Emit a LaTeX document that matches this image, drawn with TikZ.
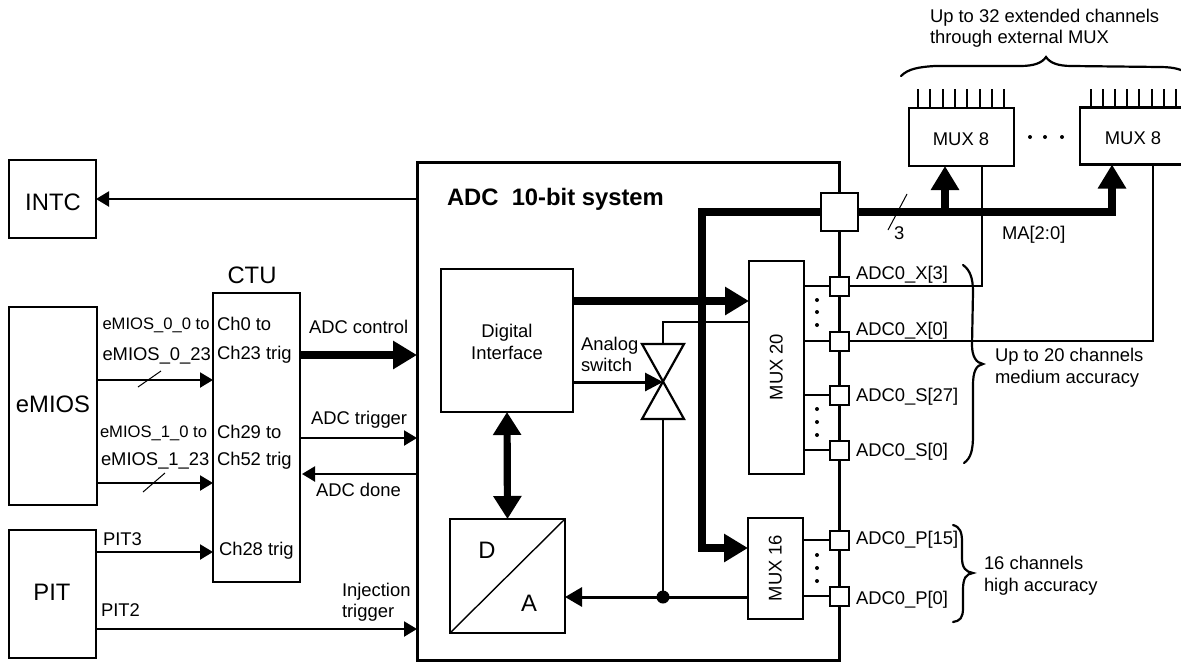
\documentclass[tikz,border=0pt]{standalone}
\usepackage{fontspec}
\setmainfont{Liberation Sans}
\usetikzlibrary{arrows.meta}
\newcommand{\fsA}{\fontsize{18.4}{22}\selectfont}
\newcommand{\fsB}{\fontsize{23.8}{28}\selectfont}
\newcommand{\fsC}{\fontsize{16.6}{20}\selectfont}
\tikzset{
  box/.style={draw=black,fill=white,line width=2.2pt,inner sep=0pt,outer sep=0pt},
  padbox/.style={box,line width=2pt,minimum width=19pt,minimum height=19pt},
  lbl/.style={inner sep=0pt,outer sep=0pt,anchor=west,text height=13pt,text depth=0pt,font=\fsA},
  lblc/.style={lbl,anchor=center},
  lblsm/.style={lbl,font=\fsC,text height=12pt},
  big/.style={lbl,anchor=center,font=\fsB,text height=17pt},
  wire/.style={line width=2pt},
  thinarrow/.style={line width=2.2pt,-{Triangle[length=13pt,width=15pt]}},
  midarrow/.style={line width=3pt,-{Triangle[length=17pt,width=19pt]}},
  bus/.style={line width=7.2pt},
  busarrow/.style={bus,-{Triangle[length=24pt,width=27pt]}},
  bibus/.style={bus,{Triangle[length=23pt,width=27pt]}-{Triangle[length=23pt,width=27pt]}},
  slash/.style={line width=1pt},
  brace/.style={line width=2.2pt,line cap=round},
  dot/.style={fill=black,circle,inner sep=0pt,minimum size=4pt,outer sep=0pt},
}
\begin{document}
\begin{tikzpicture}[x=1pt,y=-1pt]
\useasboundingbox (0,0) rectangle (1181,662);
\clip (0,0) rectangle (1181,662);
% outer blocks
\node[box,minimum width=87pt,minimum height=78pt] (intc) at (52.5,199) {};
\node[box,minimum width=88pt,minimum height=198pt] (emios) at (53,406) {};
\node[box,minimum width=87pt,minimum height=128pt] (pit) at (52.5,594) {};
\node[box,minimum width=87pt,minimum height=289pt] (ctu) at (256.5,437.5) {};
\node[box,line width=3pt,minimum width=422pt,minimum height=498pt] (adc) at (628,411) {};
\node[box,minimum width=132pt,minimum height=143pt] (di) at (507,340.5) {};
\node[box,minimum width=115pt,minimum height=114pt] (da) at (507.5,576) {};
\node[box,minimum width=55pt,minimum height=213pt] (mux20) at (776.5,367.5) {};
\node[box,minimum width=55pt,minimum height=101pt] (mux16) at (775.5,568.5) {};
\node[box,minimum width=105pt,minimum height=58pt] (muxa) at (961.5,137) {};
\node[box,minimum width=112pt,minimum height=57pt] (muxb) at (1136,136) {};
% pads
\node[padbox,minimum width=37pt,minimum height=38pt] (bigpad) at (839.5,212) {};
\node[padbox] (x3) at (839,286) {};
\node[padbox] (x0) at (839,341) {};
\node[padbox] (s27) at (839,395) {};
\node[padbox] (s0) at (839,450) {};
\node[padbox] (p15) at (839,540) {};
\node[padbox] (p0) at (839,596) {};
% block labels
\node[big] (tintc) at (53,202) {INTC};
\node[big] (temios) at (53,404) {eMIOS};
\node[big] (tpit) at (52,592) {PIT};
\node[big] (tctu) at (252,275) {CTU};
\node[lbl,font=\fsB\bfseries,text height=17pt] (tadc) at (447,197) {ADC\ \ 10-bit system};
\node[lblc] (tdi1) at (507,331) {Digital};
\node[lblc] (tdi2) at (507,353) {Interface};
\node[big] (td) at (487,550) {D};
\node[big] (ta) at (529,603) {A};
\node[lblc,rotate=90] (tm20) at (776,367) {MUX 20};
\node[lblc,rotate=90] (tm16) at (775,568) {MUX 16};
\node[lblc] (tma) at (961,139) {MUX 8};
\node[lblc] (tmb) at (1133,138) {MUX 8};
% left labels
\node[lblsm] (l1) at (102.5,323) {eMIOS\_0\_0 to};
\node[lbl] (l2) at (102.5,354) {eMIOS\_0\_23};
\node[lblsm] (l3) at (100,431) {eMIOS\_1\_0 to};
\node[lbl] (l4) at (101,459) {eMIOS\_1\_23};
\node[lbl] (c1) at (217,324) {Ch0 to};
\node[lbl] (c2) at (217,353) {Ch23 trig};
\node[lbl] (c3) at (217,432) {Ch29 to};
\node[lbl] (c4) at (217,459) {Ch52 trig};
\node[lbl] (c5) at (219,549) {Ch28 trig};
\node[lbl] (p3) at (103,539) {PIT3};
\node[lbl] (p2) at (101,610) {PIT2};
\node[lbl] (l5) at (309,327) {ADC control};
\node[lbl] (l6) at (311,418) {ADC trigger};
\node[lbl] (l7) at (316,490) {ADC done};
\node[lbl] (l8) at (342,590) {Injection};
\node[lbl] (l9) at (342,611) {trigger};
\node[lbl] (l10) at (581,344) {Analog};
\node[lbl] (l11) at (581,365) {switch};
% right labels
\node[lbl] (r1) at (856,273) {ADC0\_X[3]};
\node[lbl] (r2) at (856,329) {ADC0\_X[0]};
\node[lbl] (r3) at (856,395) {ADC0\_S[27]};
\node[lbl] (r4) at (856,450) {ADC0\_S[0]};
\node[lbl] (r5) at (856,538) {ADC0\_P[15]};
\node[lbl] (r6) at (856,598) {ADC0\_P[0]};
\node[lbl] (n1) at (930,16) {Up to 32 extended channels};
\node[lbl] (n2) at (930,37) {through external MUX};
\node[lbl] (n3) at (1002,233) {MA[2:0]};
\node[lbl] (n4) at (894,233) {3};
\node[lbl] (n5) at (995,355) {Up to 20 channels};
\node[lbl] (n6) at (995,377) {medium accuracy};
\node[lbl] (n7) at (984,563) {16 channels};
\node[lbl] (n8) at (984,585) {high accuracy};
% analog switch
\coordinate (swtl) at (642,344);
\coordinate (swtr) at (684,344);
\coordinate (swbl) at (642,419);
\coordinate (swbr) at (684,419);
\coordinate (swc) at (663,382);
\coordinate (swt) at (663,344);
\coordinate (swb) at (663,419);
\draw[line width=2.2pt,line join=miter] (swtl) -- (swtr) -- (swbl) -- (swbr) -- cycle;
\node[circle,fill=black,inner sep=0pt,minimum size=13pt,outer sep=0pt] (jn) at (663,597) {};
% connectors left
\draw[thinarrow] (adc.west |- 0,199) -- (intc.east);
\draw[thinarrow] (emios.east |- 0,380) -- (ctu.west |- 0,380);
\draw[thinarrow] (emios.east |- 0,483) -- (ctu.west |- 0,483);
\draw[thinarrow] (pit.east |- 0,552) -- (ctu.west |- 0,552);
\draw[thinarrow] (pit.east |- 0,629) -- (adc.west |- 0,629);
\draw[busarrow] (ctu.east |- 0,355) -- (adc.west |- 0,355);
\draw[thinarrow] (ctu.east |- 0,438) -- (adc.west |- 0,438);
\draw[thinarrow] (adc.west |- 0,474) -- (302,474);
\coordinate (s1a) at (138,387); \coordinate (s1b) at (161,371);
\coordinate (s2a) at (143,492); \coordinate (s2b) at (165,473);
\coordinate (s3a) at (888,230); \coordinate (s3b) at (907,194);
\draw[slash] (s1a) -- (s1b);
\draw[slash] (s2a) -- (s2b);
\draw[slash] (s3a) -- (s3b);
% bus
\coordinate (busc) at (702,212);
\coordinate (busd) at (702,548);
\coordinate (buse) at (1112,212);
\coordinate (busf) at (945,212);
\draw[busarrow,line join=miter] (bigpad.west) -- (busc) -- (busd) -- (mux16.west |- busd);
\draw[bus] (bigpad.east) -- (buse);
\draw[busarrow,shorten <=-3.6pt] (buse) -- (buse |- muxb.south);
\draw[busarrow] (busf) -- (busf |- muxa.south);
\draw[busarrow] (di.east |- 0,301) -- (mux20.west |- 0,301);
\draw[bibus] (di.south) -- (da.north);
\draw[line width=1.4pt] (da.south west) -- (da.north east);
% analog path
\draw[thinarrow,line width=3pt,-{Triangle[length=18pt,width=18pt]}] (di.east |- swc) -- (swc);
\draw[wire] (swt) -- (663,322) -- (mux20.west |- 0,322);
\draw[wire] (swb) -- (jn);
\draw[midarrow] (mux16.west |- jn) -- (da.east |- jn);
% mux to pads
\draw[wire] (mux20.east |- x3) -- (x3.west);
\draw[wire] (mux20.east |- x0) -- (x0.west);
\draw[wire] (mux20.east |- s27) -- (s27.west);
\draw[wire] (mux20.east |- s0) -- (s0.west);
\draw[wire] (mux16.east |- p15) -- (p15.west);
\draw[wire] (mux16.east |- p0) -- (p0.west);
\draw[wire] (x3.east) -- (982,286) -- (982,166);
\draw[wire] (x0.east) -- (1153,341) -- (1153,164);
% input ticks
\foreach \i in {0,...,7} {
  \coordinate (ta\i) at (918+12.3*\i,89);
  \draw[wire] (ta\i) -- (ta\i |- muxa.north);
  \coordinate (tb\i) at (1091+12.1*\i,89);
  \draw[wire] (tb\i) -- (tb\i |- muxb.north);
}
% dots
\foreach \x/\y in {817/300,817/312,817/325,817/409,817/422,817/435,817/555,817/568,817/581,1030/137,1045/137,1062/137}
  \node[dot] at (\x,\y) {};
% braces
\draw[brace] (963,265) .. controls (970,270) and (973,278) .. (973,292) -- (972,345)
  .. controls (972,356) and (976,363) .. (983,364)
  .. controls (976,365) and (973,372) .. (973,385) -- (973,435)
  .. controls (973,450) and (971,458) .. (964,463);
\draw[brace] (953,525) .. controls (960,527) and (962,532) .. (962,542) -- (962,558)
  .. controls (962,568) and (966,572) .. (973,573)
  .. controls (966,574) and (963,578) .. (963,590) -- (963,608)
  .. controls (963,618) and (960,621) .. (953,622);
\draw[brace] (901,76) .. controls (908,69) and (918,67) .. (935,66) -- (1020,66)
  .. controls (1034,66) and (1042,63) .. (1046,57)
  .. controls (1050,63) and (1058,66) .. (1072,66) -- (1160,67)
  .. controls (1175,67) and (1185,70) .. (1190,76);
\end{tikzpicture}
\end{document}
